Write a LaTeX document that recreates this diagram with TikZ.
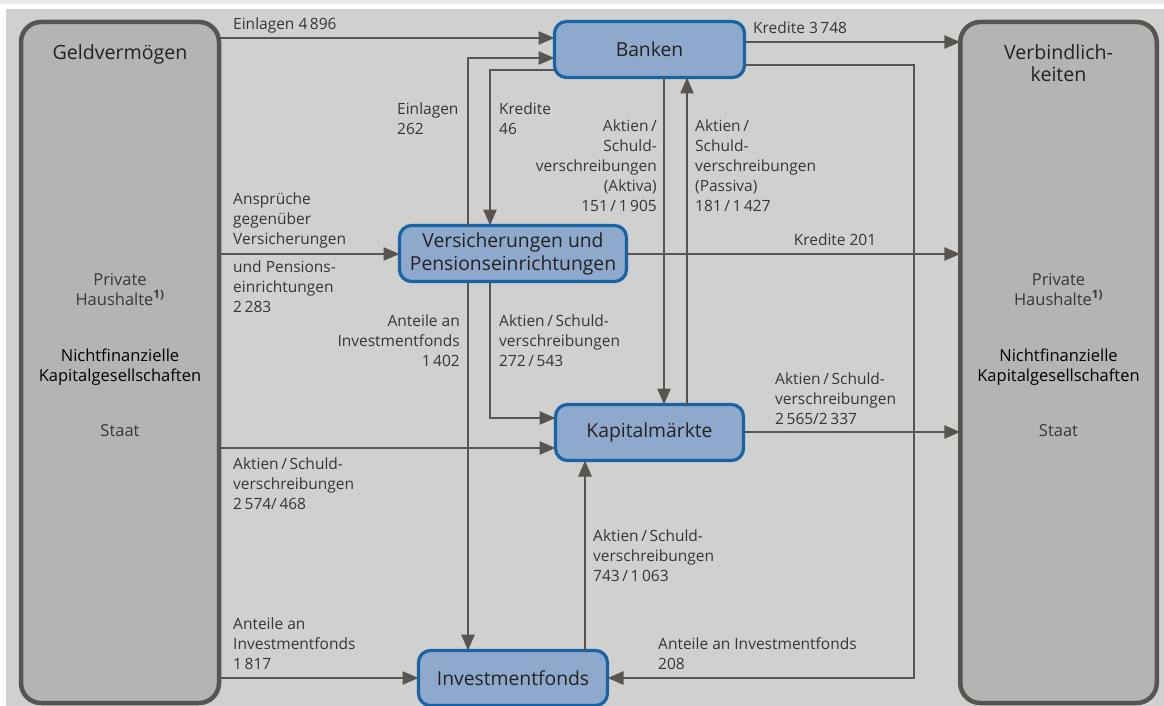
\documentclass[tikz,border=0pt]{standalone}
\usepackage{fontspec}
\setmainfont{Open Sans}
\usetikzlibrary{arrows.meta,calc}
\definecolor{bg}{HTML}{D0D0CE}
\definecolor{bigfill}{HTML}{B5B4B2}
\definecolor{bigdraw}{HTML}{58544F}
\definecolor{bluefill}{HTML}{8EA9CB}
\definecolor{bluedraw}{HTML}{1763A4}
\definecolor{arrowc}{HTML}{58544F}
\definecolor{labc}{HTML}{363636}
\definecolor{boxtc}{HTML}{222222}
\definecolor{topstrip}{HTML}{EBEBEB}
\begin{document}
\begin{tikzpicture}[x=1pt,y=-1pt,
  bigbox/.style={draw=bigdraw,fill=bigfill,line width=4.5pt,rounded corners=20pt,inner sep=0pt,outer sep=0pt,minimum height=681pt},
  bluebox/.style={draw=bluedraw,fill=bluefill,line width=3.2pt,rounded corners=12pt,inner sep=0pt,outer sep=0pt,minimum height=56pt,font=\fontsize{19.3}{23}\selectfont,text=boxtc,align=center},
  arr/.style={draw=arrowc,line width=2.6pt,-{Triangle[length=16pt,width=13pt]}},
  lab/.style={font=\fontsize{15.5}{20}\selectfont,text=labc,inner sep=0pt},
  titletxt/.style={font=\fontsize{19.6}{22.4}\selectfont,text=boxtc,inner sep=0pt,align=center,anchor=base},
  boxtxt/.style={font=\fontsize{16.5}{20}\selectfont,text=boxtc!90,inner sep=0pt,align=center,anchor=base},
  boxtxtdark/.style={boxtxt,text=black}
]
\useasboundingbox (0,0) rectangle (1164,706);
\fill[topstrip] (0,0) rectangle (1164,4);
\fill[bg] (6,9) rectangle (1164,706);

% big boxes
\node[bigbox,minimum width=198pt] (L) at (120,362.5) {};
\node[bigbox,minimum width=196.5pt] (R) at (1058.5,362.5) {};

% blue boxes
\node[bluebox,minimum width=190pt] (B) at (649.5,49.5) {Banken};
\node[bluebox,minimum width=227pt] (V) at (513,253.5) {Versicherungen und\\Pensionseinrichtungen};
\node[bluebox,minimum width=188pt] (K) at (649.5,432.5) {Kapitalmärkte};
\node[bluebox,minimum width=189pt,minimum height=55pt] (I) at (513,678) {Investmentfonds};

% texts in big boxes (base = last line)
\node[titletxt] (Lt) at (120,59.3) {Geldvermögen};
\node[boxtxt] (Lp) at (120,305) {Private\\Haushalte\textsuperscript{\bfseries 1)}};
\node[boxtxtdark] (Ln) at (120,381) {Nichtfinanzielle\\Kapitalgesellschaften};
\node[boxtxt] (Ls) at (120,436.7) {Staat};
\node[titletxt] (Rt) at (1058.5,81.7) {Verbindlich-\\keiten};
\node[boxtxt] (Rp) at (1058.5,305) {Private\\Haushalte\textsuperscript{\bfseries 1)}};
\node[boxtxtdark] (Rn) at (1058.5,381) {Nichtfinanzielle\\Kapitalgesellschaften};
\node[boxtxt] (Rs) at (1058.5,436.7) {Staat};

% connectors
\coordinate (bend) at (914,678);
\draw[arr] (L.east |- 0,38) -- (B.west |- 0,38);
\draw[arr] (V.north -| 468,0) |- (B.west |- 0,58);
\draw[arr] (B.west |- 0,70) -| (V.north -| 490,0);
\draw[arr] (B.south -| 664,0) -- (K.north -| 664,0);
\draw[arr] (K.north -| 687,0) -- (B.south -| 687,0);
\draw[arr] (B.east |- 0,42) -- (R.west |- 0,42);
\draw[arr] (B.east |- 0,65) -| (bend) -- (I.east |- bend);
\draw[arr] (L.east |- 0,254) -- (V.west |- 0,254);
\draw[arr] (V.east |- 0,254) -- (R.west |- 0,254);
\draw[arr] (V.south -| 468,0) -- (I.north -| 468,0);
\draw[arr] (V.south -| 490,0) |- (K.west |- 0,418);
\draw[arr] (L.east |- 0,448) -- (K.west |- 0,448);
\draw[arr] (K.east |- 0,432) -- (R.west |- 0,432);
\draw[arr] (I.north -| 585,0) -- (K.south -| 585,0);
\draw[arr] (L.east |- 0,678) -- (I.west |- 0,678);

% labels (base = last line)
\node[lab,anchor=base west] (l1) at (233,29.5) {Einlagen 4\,896};
\node[lab,anchor=base west] (l2) at (753,33.3) {Kredite 3\,748};
\node[lab,anchor=base west,align=left] (l3) at (397,135) {Einlagen\\262};
\node[lab,anchor=base west,align=left] (l4) at (499,135) {Kredite\\46};
\node[lab,anchor=base east,align=right] (l5) at (657,211.7) {Aktien\,/\\Schuld-\\verschreibungen\\(Aktiva)\\151\,/\,1\,905};
\node[lab,anchor=base west,align=left] (l6) at (695,211.7) {Aktien\,/\\Schuld-\\verschreibungen\\(Passiva)\\181\,/\,1\,427};
\node[lab,anchor=base west,align=left] (l7) at (233,244) {Ansprüche\\gegenüber\\Versicherungen};
\node[lab,anchor=base west,align=left] (l8) at (233,312.7) {und Pensions-\\einrichtungen\\2\,283};
\node[lab,anchor=base] (l9) at (835,245.7) {Kredite 201};
\node[lab,anchor=base east,align=right] (l10) at (460,366.7) {Anteile an\\Investmentfonds\\1\,402};
\node[lab,anchor=base west,align=left] (l11) at (499,366.7) {Aktien\,/\,Schuld-\\verschreibungen\\272\,/\,543};
\node[lab,anchor=base west,align=left] (l12) at (775,424) {Aktien\,/\,Schuld-\\verschreibungen\\2\,565/2\,337};
\node[lab,anchor=base west,align=left] (l13) at (233,509.3) {Aktien\,/\,Schuld-\\verschreibungen\\2\,574/\,468};
\node[lab,anchor=base west,align=left] (l14) at (593,581.7) {Aktien\,/\,Schuld-\\verschreibungen\\743\,/\,1\,063};
\node[lab,anchor=base west,align=left] (l15) at (233,669.3) {Anteile an\\Investmentfonds\\1\,817};
\node[lab,anchor=base west,align=left] (l16) at (658,669.3) {Anteile an Investmentfonds\\208};
\end{tikzpicture}
\end{document}
